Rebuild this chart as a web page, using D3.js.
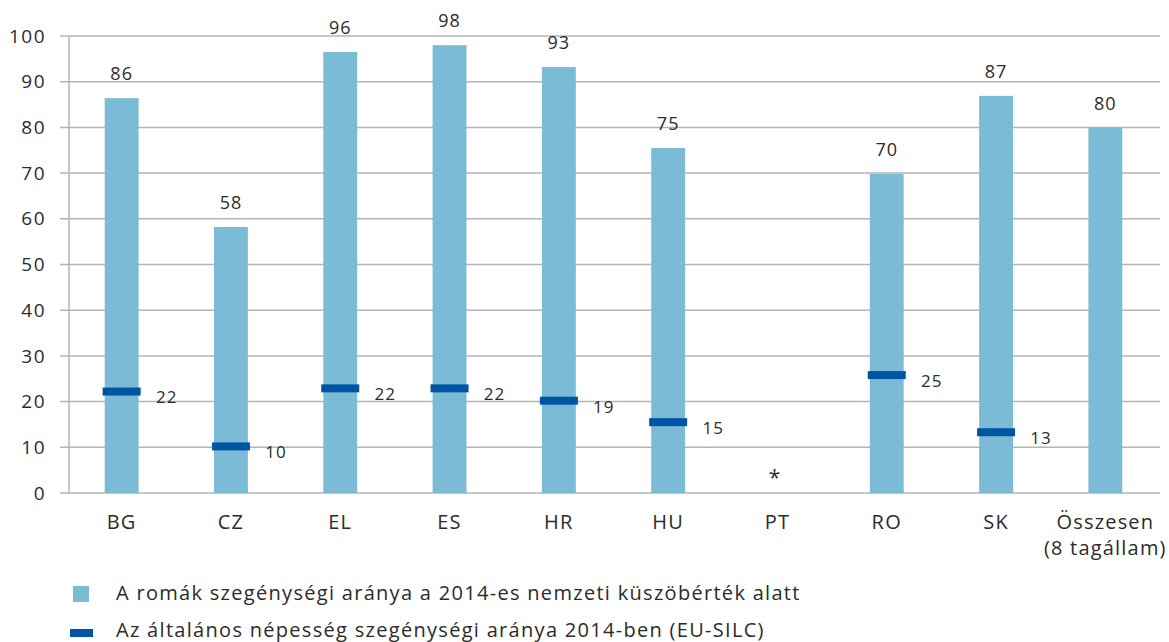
<!DOCTYPE html>
<html>
<head>
<meta charset="utf-8">
<script src="https://d3js.org/d3.v7.min.js"></script>
<style>
  body { margin: 0; background: #fff; }
  text { font-family: "Open Sans", "Noto Sans", sans-serif; fill: #2b2b2b; }
</style>
</head>
<body>
<div id="chart"></div>
<script>
// Categories and values
const categories = ['BG', 'CZ', 'EL', 'ES', 'HR', 'HU', 'PT', 'RO', 'SK', 'Összesen'];
const categoryLines = { 'Összesen': ['Összesen', '(8 tagállam)'] };
const romaRate = [86.4, 58.2, 96.5, 98.0, 93.2, 75.5, null, 69.8, 86.9, 79.9];
const romaLabels = ['86', '58', '96', '98', '93', '75', '', '70', '87', '80'];
const generalRate = [22.2, 10.2, 22.9, 22.9, 20.2, 15.5, null, 25.8, 13.3, null];
const generalLabels = ['22', '10', '22', '22', '19', '15', '', '25', '13', ''];
const yTicks = [0, 10, 20, 30, 40, 50, 60, 70, 80, 90, 100];
const legendItems = [
  'A romák szegénységi aránya a 2014-es nemzeti küszöbérték alatt',
  'Az általános népesség szegénységi aránya 2014-ben (EU-SILC)'
];

const width = 1169, height = 642;
const barColor = '#7bbbd6', dashColor = '#0054a4', gridColor = '#b4b4b4';

const svg = d3.select('#chart').append('svg')
  .attr('width', width).attr('height', height);

const x = d3.scaleBand().domain(categories).range([67, 1160]).paddingInner(0.69).paddingOuter(0.345);
const y = d3.scaleLinear().domain([0, 100]).range([493, 36]);

// Gridlines + tick marks
svg.append('g').selectAll('line')
  .data(yTicks).enter().append('line')
  .attr('x1', 60).attr('x2', 1160)
  .attr('y1', d => y(d)).attr('y2', d => y(d))
  .attr('stroke', gridColor).attr('stroke-width', 1.5);

// Y axis line
svg.append('line')
  .attr('x1', 69).attr('x2', 69)
  .attr('y1', y(100)).attr('y2', y(0))
  .attr('stroke', gridColor).attr('stroke-width', 1.5);

// Y tick labels
svg.append('g').selectAll('text')
  .data(yTicks).enter().append('text')
  .attr('x', 46).attr('y', d => y(d))
  .attr('dy', '0.35em')
  .attr('text-anchor', 'end')
  .attr('font-size', 19)
  .attr('letter-spacing', 1.5)
  .text(d => d);

const rows = categories.map((c, i) => ({
  cat: c, roma: romaRate[i], rl: romaLabels[i], gen: generalRate[i], gl: generalLabels[i]
}));

// Bars
svg.append('g').selectAll('rect')
  .data(rows.filter(d => d.roma != null)).enter().append('rect')
  .attr('x', d => x(d.cat))
  .attr('width', x.bandwidth())
  .attr('y', d => y(d.roma))
  .attr('height', d => y(0) - y(d.roma))
  .attr('fill', barColor);

// Bar labels
svg.append('g').selectAll('text')
  .data(rows.filter(d => d.roma != null)).enter().append('text')
  .attr('x', d => x(d.cat) + x.bandwidth() / 2)
  .attr('y', d => y(d.roma) - 18)
  .attr('text-anchor', 'middle')
  .attr('font-size', 18)
  .attr('letter-spacing', 1)
  .text(d => d.rl);

// General population dashes
const dashW = 38, dashH = 8;
svg.append('g').selectAll('rect')
  .data(rows.filter(d => d.gen != null)).enter().append('rect')
  .attr('x', d => x(d.cat) + x.bandwidth() / 2 - dashW / 2)
  .attr('y', d => y(d.gen) - dashH / 2)
  .attr('width', dashW).attr('height', dashH)
  .attr('fill', dashColor);

svg.append('g').selectAll('text')
  .data(rows.filter(d => d.gen != null)).enter().append('text')
  .attr('x', d => x(d.cat) + x.bandwidth() / 2 + 45)
  .attr('y', d => y(d.gen) + 6)
  .attr('dy', '0.35em')
  .attr('text-anchor', 'middle')
  .attr('font-size', 17)
  .attr('letter-spacing', 1)
  .text(d => d.gl);

// PT: no data marker
svg.append('text')
  .attr('x', x('PT') + x.bandwidth() / 2 - 3)
  .attr('y', y(0) - 8)
  .attr('text-anchor', 'middle')
  .attr('font-size', 21)
  .text('*');

// Category labels
const catG = svg.append('g').selectAll('text')
  .data(categories).enter().append('text')
  .attr('x', d => x(d) + x.bandwidth() / 2)
  .attr('y', 529)
  .attr('text-anchor', 'middle')
  .attr('font-size', 20)
  .attr('letter-spacing', 1.2);
catG.each(function(d) {
  const lines = categoryLines[d] || [d];
  lines.forEach((l, i) => {
    d3.select(this).append('tspan')
      .attr('x', x(d) + x.bandwidth() / 2)
      .attr('dy', i === 0 ? 0 : 26)
      .text(l);
  });
});

// Legend
const legend = svg.append('g');
legend.append('rect').attr('x', 73).attr('y', 586).attr('width', 16).attr('height', 16).attr('fill', barColor);
legend.append('rect').attr('x', 70).attr('y', 629).attr('width', 23).attr('height', 8).attr('fill', dashColor);
legendItems.forEach((t, i) => {
  legend.append('text')
    .attr('x', 116).attr('y', 593 + i * 37)
    .attr('dy', '0.35em')
    .attr('font-size', 20)
    .attr('letter-spacing', 1.3)
    .text(t);
});
</script>
</body>
</html>
